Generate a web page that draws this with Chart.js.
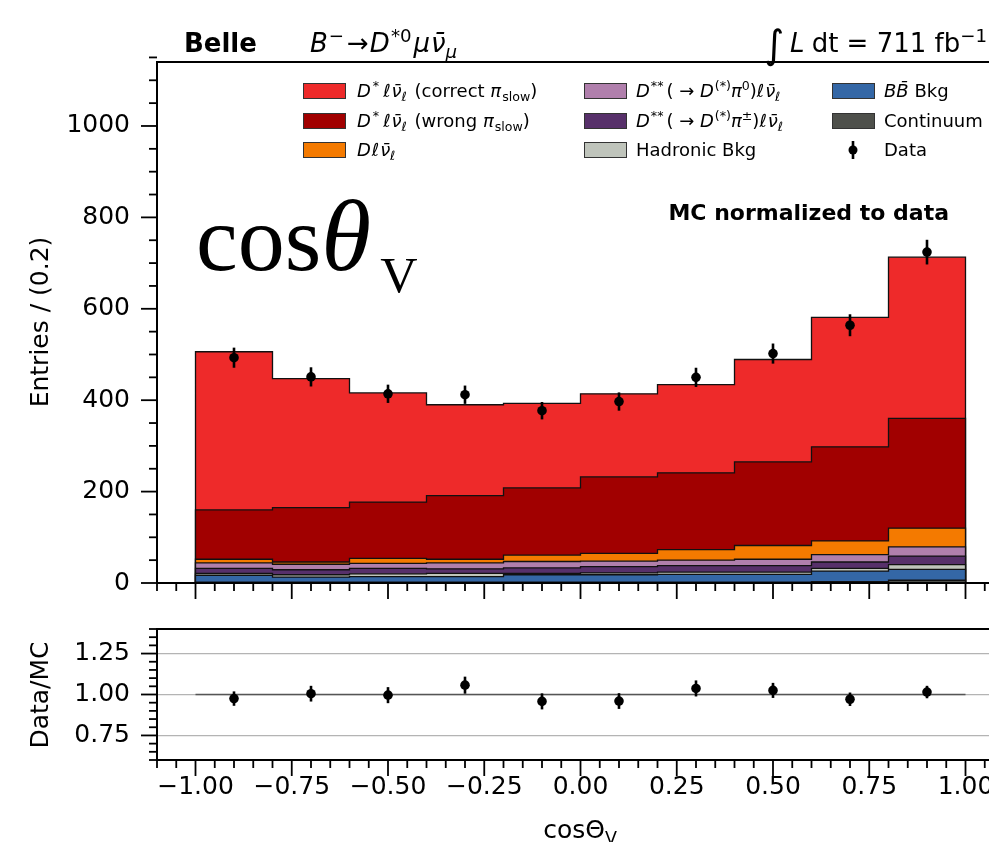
<!DOCTYPE html>
<html><head><meta charset="utf-8">
<script src="https://cdn.jsdelivr.net/npm/chart.js@4.4.0/dist/chart.umd.min.js"></script>
<style>
html,body{margin:0;padding:0;background:#fff;overflow:hidden;width:989px;height:842px}
#wrap{position:relative;width:1010px;height:842px;overflow:hidden}
canvas{position:absolute;left:0}
#main{top:0}
#ratio{top:600px}
</style></head><body>
<div id="wrap"><canvas id="main" width="1010" height="600"></canvas><canvas id="ratio" width="1010" height="242"></canvas></div>
<script>
// ---------------- data ----------------
const binEdges   = [-1.0,-0.8,-0.6,-0.4,-0.2,0.0,0.2,0.4,0.6,0.8,1.0];
const binCenters = [-0.9,-0.7,-0.5,-0.3,-0.1,0.1,0.3,0.5,0.7,0.9];
const continuum    = [2,2,2,2,2,2,2,2,3,6];
const bbBkg        = [15,11,12,12,16,16,17,17,23,24];
const hadronicBkg  = [4,5,6,7,3,4,5,5,6,10];
const dssCharged   = [11,11,12,10,12,14,14,14,14,19];
const dssNeutral   = [12,12,11,13,14,12,12,14,16,20];
const dlnu         = [8,5,11,8,14,17,23,30,30,41];
const dstarWrong   = [108,119,123,139,147,167,168,183,206,240];
const dstarCorrect = [346,282,239,199,185,182,193,224,283,353];
const dataCounts = [493,451,414,412,377,397,450,502,564,724];
const dataErrors = [22,21,20,20,19,20,21,22,24,27];
const ratioValues = [0.975,1.005,0.996,1.057,0.958,0.960,1.037,1.025,0.971,1.015];
const ratioErrors = [0.044,0.048,0.049,0.052,0.049,0.048,0.049,0.046,0.041,0.038];
const xTickValues = [-1,-0.75,-0.5,-0.25,0,0.25,0.5,0.75,1];
const xTickLabels = ['\u22121.00','\u22120.75','\u22120.50','\u22120.25','0.00','0.25','0.50','0.75','1.00'];
const yTickValues = [0,200,400,600,800,1000];
const yTickLabels = ['0','200','400','600','800','1000'];
const ratioTickValues = [0.75,1.0,1.25];
const ratioTickLabels = ['0.75','1.00','1.25'];

const FAM = 'DejaVu Sans';
const layers = [
  {vals: continuum,    color:'#4e504b'},
  {vals: bbBkg,        color:'#3467a6'},
  {vals: hadronicBkg,  color:'#bfc4bb'},
  {vals: dssCharged,   color:'#57306a'},
  {vals: dssNeutral,   color:'#b07fac'},
  {vals: dlnu,         color:'#f47a00'},
  {vals: dstarWrong,   color:'#a10000'},
  {vals: dstarCorrect, color:'#ee2a2a'}
];

// ---------------- rich text helpers ----------------
function segSize(s,size){ return s.sub||s.sup ? size*(s.ss||0.7) : size*(s.scale||1); }
function segFont(s,size,fam){ return (s.i?'italic ':'')+(s.b?'bold ':'')+segSize(s,size)+'px '+(s.f||fam); }
function richWidth(ctx,segs,size,fam){ let w=0; for(const s of segs){ctx.font=segFont(s,size,fam); w+=ctx.measureText(s.t).width+(s.dx||0);} return w; }
function drawRich(ctx,x,y,segs,size,fam,align){
  const w=richWidth(ctx,segs,size,fam);
  let cx = align==='right'? x-w : align==='center'? x-w/2 : x;
  ctx.textAlign='left'; ctx.textBaseline='alphabetic'; ctx.fillStyle='#000';
  for(const s of segs){
    ctx.font=segFont(s,size,fam);
    let dy = s.sup ? -size*0.38 : s.sub ? size*0.22 : 0;
    if (s.dy!==undefined) dy = s.dy;
    ctx.fillText(s.t,cx,y+dy);
    cx += ctx.measureText(s.t).width+(s.dx||0);
  }
}

// ---------------- plugins ----------------
const frameTicks = {
  id:'frameTicks',
  afterDatasetsDraw(chart,args,o){
    const {ctx, chartArea:a, scales:{x,y}} = chart;
    ctx.save(); ctx.strokeStyle='#000';
    ctx.lineWidth=1.8;
    const seg=(x1,y1,x2,y2)=>{ctx.beginPath();ctx.moveTo(x1,y1);ctx.lineTo(x2,y2);ctx.stroke();};
    for(let k=Math.round(x.min/o.xMinor); k<=Math.round(x.max/o.xMinor); k++){
      const v=k*o.xMinor, px=x.getPixelForValue(v);
      const major=o.xMajor.some(m=>Math.abs(m-v)<1e-9);
      seg(px,a.bottom,px,a.bottom+(major?16:8));
    }
    for(let k=Math.round(y.min/o.yMinor); k<=Math.round(y.max/o.yMinor); k++){
      const v=k*o.yMinor, py=y.getPixelForValue(v);
      const major=o.yMajor.some(m=>Math.abs(m-v)<1e-9);
      seg(a.left-(major?16:8),py,a.left,py);
    }
    ctx.lineWidth=2;
    ctx.strokeRect(a.left,a.top,a.right-a.left,a.bottom-a.top);
    ctx.restore();
  }
};
const errBars = {
  id:'errBars',
  afterDatasetsDraw(chart,args,o){
    const {ctx, scales:{x,y}} = chart;
    ctx.save(); ctx.strokeStyle='#000'; ctx.lineWidth=2.6;
    o.xs.forEach((xv,i)=>{
      const px=x.getPixelForValue(xv);
      ctx.beginPath();
      ctx.moveTo(px,y.getPixelForValue(o.ys[i]-o.es[i]));
      ctx.lineTo(px,y.getPixelForValue(o.ys[i]+o.es[i]));
      ctx.stroke();
    });
    ctx.restore();
  }
};
const mainText = {
  id:'mainText',
  afterDraw(chart){
    const ctx=chart.ctx; ctx.save();
    // header
    drawRich(ctx,184,52,[{t:'Belle',b:1}],26,FAM,'left');
    drawRich(ctx,310,52,[{t:'B',i:1,dx:1},{t:'\u2212',sup:1,dx:3},{t:'\u2192',dx:1},{t:'D',i:1,dx:1},{t:'*0',sup:1,dx:2},{t:'\u03bc',i:1,dx:1},{t:'\u03bd\u0304',i:1},{t:'\u03bc',i:1,sub:1}],26,FAM,'left');
    drawRich(ctx,987,52,[{t:'\u222b',scale:1.5,dy:6,dx:6},{t:'L',i:1,dx:2},{t:'\u2009dt = 711 fb'},{t:'\u22121',sup:1}],26,FAM,'right');
    // legend
    const L=18, rows=[91,121,150];
    const boxes=[[303,rows[0],'#ee2a2a'],[303,rows[1],'#a10000'],[303,rows[2],'#f47a00'],
                 [584,rows[0],'#b07fac'],[584,rows[1],'#57306a'],[584,rows[2],'#bfc4bb'],
                 [832,rows[0],'#3467a6'],[832,rows[1],'#4e504b']];
    ctx.lineWidth=1;
    for(const [bx,by,c] of boxes){ ctx.fillStyle=c; ctx.fillRect(bx,by-7.5,42,15); ctx.strokeStyle='#333'; ctx.strokeRect(bx+0.5,by-7.5,42,15); }
    const dst=[{t:'D',i:1,dx:2},{t:'*',sup:1,dx:4},{t:'\u2113',i:1,dx:1},{t:'\u03bd\u0304',i:1},{t:'\u2113',i:1,sub:1,dx:2}];
    drawRich(ctx,357,rows[0]+6,[...dst,{t:' (correct '},{t:'\u03c0',i:1,dx:1},{t:'slow',sub:1},{t:')'}],L,FAM,'left');
    drawRich(ctx,357,rows[1]+6,[...dst,{t:' (wrong '},{t:'\u03c0',i:1,dx:1},{t:'slow',sub:1},{t:')'}],L,FAM,'left');
    drawRich(ctx,357,rows[2]+6,[{t:'D',i:1,dx:1},{t:'\u2113',i:1,dx:1},{t:'\u03bd\u0304',i:1},{t:'\u2113',i:1,sub:1}],L,FAM,'left');
    const dss=(p)=>[{t:'D',i:1,dx:1},{t:'**',sup:1,dx:3},{t:'( \u2192 '},{t:'D',i:1,dx:1},{t:'(*)',sup:1},{t:'\u03c0',i:1},{t:p,sup:1},{t:')'},{t:'\u2113',i:1,dx:1},{t:'\u03bd\u0304',i:1},{t:'\u2113',i:1,sub:1}];
    drawRich(ctx,636,rows[0]+6,dss('0'),L,FAM,'left');
    drawRich(ctx,636,rows[1]+6,dss('\u00b1'),L,FAM,'left');
    drawRich(ctx,636,rows[2]+6,[{t:'Hadronic Bkg'}],L,FAM,'left');
    drawRich(ctx,884,rows[0]+6,[{t:'B',i:1},{t:'B\u0304',i:1},{t:' Bkg'}],L,FAM,'left');
    drawRich(ctx,884,rows[1]+6,[{t:'Continuum'}],L,FAM,'left');
    drawRich(ctx,884,rows[2]+6,[{t:'Data'}],L,FAM,'left');
    ctx.fillStyle='#000'; ctx.strokeStyle='#000'; ctx.lineWidth=2.6;
    ctx.beginPath(); ctx.moveTo(853,rows[2]-9); ctx.lineTo(853,rows[2]+9); ctx.stroke();
    ctx.beginPath(); ctx.arc(853,rows[2],4.5,0,Math.PI*2); ctx.fill();
    // note
    drawRich(ctx,949,220,[{t:'MC normalized to data',b:1}],22,FAM,'right');
    // y label
    ctx.save(); ctx.translate(48,322); ctx.rotate(-Math.PI/2);
    drawRich(ctx,0,0,[{t:'Entries / (0.2)'}],25,FAM,'center');
    ctx.restore();
    // big annotation
    drawRich(ctx,196,270,[{t:'cos'},{t:'\u03b8',i:1,scale:1.08,dx:9},{t:'V',sub:1,ss:0.55,dy:22}],94,'Liberation Serif','left');
    ctx.restore();
  }
};
const ratioText = {
  id:'ratioText',
  afterDraw(chart){
    const ctx=chart.ctx; ctx.save();
    ctx.translate(48,95); ctx.rotate(-Math.PI/2);
    drawRich(ctx,0,0,[{t:'Data/MC'}],25,FAM,'center');
    ctx.restore(); ctx.save();
    drawRich(ctx,580,238,[{t:'cos\u0398'},{t:'V',sub:1}],25,FAM,'center');
    ctx.restore();
  }
};
const zeroPad = s => { s.paddingTop=0; s.paddingBottom=0; s.paddingLeft=0; s.paddingRight=0; };

// ---------------- main chart ----------------
const datasets=[{
  type:'scatter', data: binCenters.map((x,i)=>({x, y:dataCounts[i]})),
  pointRadius:4.8, pointBackgroundColor:'#000', pointBorderColor:'#000', pointBorderWidth:0
}];
const cum = binCenters.map(()=>0);
layers.forEach(l=>{
  l.vals.forEach((v,i)=>cum[i]+=v);
  const pts=[{x:binEdges[0],y:0}];
  for(let i=0;i<10;i++) pts.push({x:binEdges[i],y:cum[i]});
  pts.push({x:binEdges[10],y:cum[9]});
  pts.push({x:binEdges[10],y:0});
  datasets.push({type:'line',data:pts,stepped:'before',fill:'origin',backgroundColor:l.color,
    borderColor:'#111',borderWidth:1.3,pointRadius:0,tension:0});
});

const tickFont={family:FAM,size:25};
new Chart(document.getElementById('main'),{
  type:'line',
  data:{datasets},
  options:{
    responsive:false, animation:false, devicePixelRatio:1, events:[],
    layout:{padding:{top:62,right:6,left:0,bottom:0}},
    plugins:{legend:{display:false},tooltip:{enabled:false},
      frameTicks:{xMinor:0.05,xMajor:xTickValues,yMinor:50,yMajor:yTickValues},
      errBars:{xs:binCenters,ys:dataCounts,es:dataErrors}},
    scales:{
      x:{type:'linear',min:-1.1,max:1.1,grid:{display:false,drawTicks:false},border:{display:false},
        ticks:{display:false},afterBuildTicks:s=>{s.ticks=xTickValues.map(v=>({value:v}));},afterFit:s=>{s.height=17;zeroPad(s);}},
      y:{type:'linear',min:0,max:1140,grid:{display:false,drawTicks:false},border:{display:false},
        ticks:{padding:27,font:tickFont,color:'#000',callback:(v)=>{const k=yTickValues.indexOf(v);return k<0?'':yTickLabels[k];}},
        afterBuildTicks:s=>{s.ticks=yTickValues.map(v=>({value:v}));},afterFit:s=>{s.width=157;zeroPad(s);}}
    }
  },
  plugins:[frameTicks,errBars,mainText]
});

// ---------------- ratio chart ----------------
new Chart(document.getElementById('ratio'),{
  type:'line',
  data:{datasets:[
    {type:'scatter',data:binCenters.map((x,i)=>({x,y:ratioValues[i]})),pointRadius:4.8,pointBackgroundColor:'#000',pointBorderColor:'#000',pointBorderWidth:0},
    {type:'line',data:[{x:binEdges[0],y:1},{x:binEdges[10],y:1}],borderColor:'#555',borderWidth:1.3,pointRadius:0,fill:false}
  ]},
  options:{
    responsive:false, animation:false, devicePixelRatio:1, events:[],
    layout:{padding:{top:29,right:6,left:0,bottom:0}},
    plugins:{legend:{display:false},tooltip:{enabled:false},
      frameTicks:{xMinor:0.05,xMajor:xTickValues,yMinor:0.05,yMajor:ratioTickValues},
      errBars:{xs:binCenters,ys:ratioValues,es:ratioErrors}},
    scales:{
      x:{type:'linear',min:-1.1,max:1.1,grid:{display:false,drawTicks:false},border:{display:false},
        ticks:{padding:12,font:tickFont,color:'#000',maxRotation:0,autoSkip:false,
          callback:(v)=>{const k=xTickValues.findIndex(t=>Math.abs(t-v)<1e-9);return k<0?'':xTickLabels[k];}},
        afterBuildTicks:s=>{s.ticks=xTickValues.map(v=>({value:v}));},afterFit:s=>{s.height=82;zeroPad(s);}},
      y:{type:'linear',min:0.6,max:1.4,grid:{display:true,drawTicks:false,color:'#b4b4b4',lineWidth:1.2},border:{display:false},
        ticks:{padding:27,font:tickFont,color:'#000',
          callback:(v)=>{const k=ratioTickValues.findIndex(t=>Math.abs(t-v)<1e-9);return k<0?'':ratioTickLabels[k];}},
        afterBuildTicks:s=>{s.ticks=ratioTickValues.map(v=>({value:v}));},afterFit:s=>{s.width=157;zeroPad(s);}}
    }
  },
  plugins:[frameTicks,errBars,ratioText]
});
</script>
</body></html>
